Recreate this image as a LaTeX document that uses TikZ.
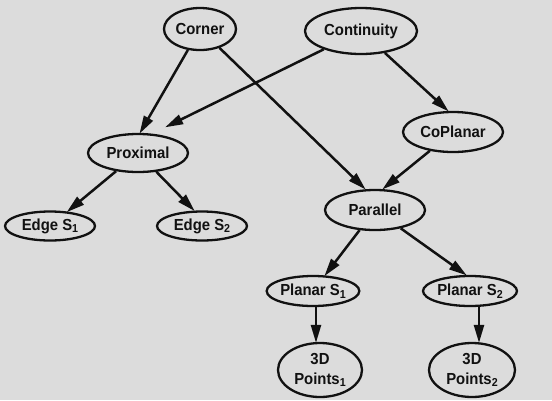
\documentclass[tikz,border=0pt]{standalone}
\usepackage{fontspec}
\setmainfont{Liberation Sans}[FakeStretch=0.93]
\usetikzlibrary{shapes.geometric,arrows.meta}
\definecolor{paper}{HTML}{DCDCDC}
\definecolor{ink}{HTML}{111111}
\newcommand{\subd}[1]{\raisebox{-0.32ex}{\fontsize{11.5}{11.5}\selectfont #1}}
\begin{document}
\begin{tikzpicture}[x=1pt,y=-1pt,
  bn/.style={ellipse,draw=ink,line width=2.3pt,inner sep=0pt,align=center,
    font=\fontsize{16}{20}\selectfont\bfseries,text=ink},
  link/.style={draw=ink,line width=2.5pt,-{Triangle[length=18pt,width=10pt]},shorten >=-1pt}]
\fill[paper] (0,0) rectangle (552,400);
\useasboundingbox (0,0) rectangle (552,400);
\node[bn,minimum width=72pt,minimum height=42pt] (corner) at (200,29) {Corner};
\node[bn,minimum width=112pt,minimum height=46pt] (cont) at (361,31) {Continuity};
\node[bn,minimum width=100pt,minimum height=38pt] (prox) at (138,153) {Proximal};
\node[bn,minimum width=100pt,minimum height=40pt] (copl) at (453,132) {CoPlanar};
\node[bn,minimum width=100pt,minimum height=40pt] (par) at (375,210) {Parallel};
\node[bn,minimum width=90pt,minimum height=29pt] (e1) at (50,226) {Edge S\subd{1}};
\node[bn,minimum width=90pt,minimum height=29pt] (e2) at (202,226) {Edge S\subd{2}};
\node[bn,minimum width=88pt,minimum height=30pt] (ps1) at (313,291) {Planar S\subd{1}};
\node[bn,minimum width=94pt,minimum height=30pt] (ps2) at (470,291) {Planar S\subd{2}};
\node[bn,minimum width=84pt,minimum height=54pt] (pt1) at (320,370) {3D\\Points\subd{1}};
\node[bn,minimum width=86pt,minimum height=54pt] (pt2) at (472,370) {3D\\Points\subd{2}};
\draw[link] (corner) -- ([xshift=2pt]prox.north);
\draw[link] (corner) -- ([xshift=-10pt]par.north);
\draw[link] (cont) -- ([xshift=28pt,yshift=6pt]prox.north);
\draw[link] (cont) -- ([xshift=-5pt]copl.north);
\draw[link] (copl) -- ([xshift=8pt]par.north);
\draw[link] (prox) -- (e1);
\draw[link] (prox) -- ([xshift=-8pt]e2.north);
\draw[link] (par) -- (ps1);
\draw[link] (par) -- ([xshift=-4pt]ps2.north);
\draw[link] ([xshift=3pt]ps1.south) -- ([xshift=-4pt]pt1.north);
\draw[link] ([xshift=9pt]ps2.south) -- ([xshift=7pt]pt2.north);
\end{tikzpicture}
\end{document}
